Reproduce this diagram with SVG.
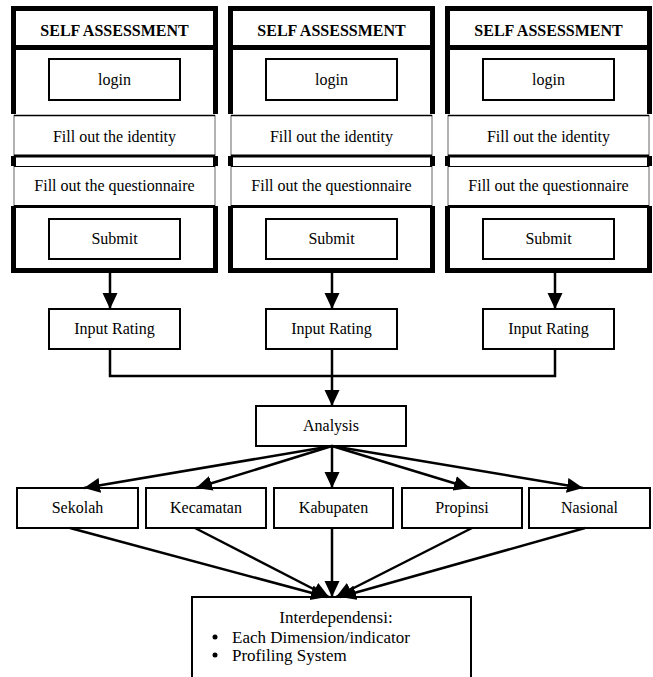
<svg xmlns="http://www.w3.org/2000/svg" width="653" height="677" viewBox="0 0 653 677">
<style>
text{font-family:"Liberation Serif","Times New Roman",serif;font-size:16px;fill:#000;text-anchor:middle}
.b{font-weight:bold}
.frame{fill:#fff;stroke:#000;stroke-width:5}
.box{fill:#fff;stroke:#000;stroke-width:2}
.cover{fill:#fff;stroke:none}
.thin{fill:#fff;stroke:#666;stroke-width:1}
.k{stroke:#000;fill:none}
.c{stroke:#000;stroke-width:2.5;fill:none}
.big{font-size:17px}
</style>
<defs>
<marker id="ah" markerUnits="userSpaceOnUse" markerWidth="17" markerHeight="16" refX="16" refY="7.5" orient="auto" viewBox="0 0 17 15">
<path d="M0,0 L16,7.5 L0,15 z" fill="#000"/>
</marker>
<g id="panelShape">
<rect class="frame" x="13.5" y="8.5" width="202" height="262"/>
<line class="k" x1="11" y1="47.5" x2="218" y2="47.5" stroke-width="5"/>
<rect class="box" x="49" y="59" width="131" height="41"/>
<rect class="cover" x="10" y="114" width="209" height="42"/>
<rect class="thin" x="14" y="115.5" width="201" height="40"/>
<line class="k" x1="14" y1="115.5" x2="215" y2="115.5" stroke-width="1.5"/>
<line class="k" x1="14" y1="156" x2="215" y2="156" stroke-width="3"/>
<rect class="cover" x="10" y="166" width="209" height="40"/>
<rect class="thin" x="14" y="166.5" width="201" height="39"/>
<line class="k" x1="14" y1="166.5" x2="215" y2="166.5" stroke-width="1"/>
<line class="k" x1="14" y1="206.5" x2="215" y2="206.5" stroke-width="3"/>
<rect class="box" x="49" y="219" width="131" height="40"/>
</g>
</defs>

<g id="panel1">
<use href="#panelShape"/>
<text class="b" x="114.5" y="36">SELF ASSESSMENT</text>
<text x="114.5" y="85">login</text>
<text x="114.5" y="142">Fill out the identity</text>
<text x="114.5" y="191">Fill out the questionnaire</text>
<text x="114.5" y="244">Submit</text>
</g>
<g id="panel2" transform="translate(217,0)">
<use href="#panelShape"/>
<text class="b" x="114.5" y="36">SELF ASSESSMENT</text>
<text x="114.5" y="85">login</text>
<text x="114.5" y="142">Fill out the identity</text>
<text x="114.5" y="191">Fill out the questionnaire</text>
<text x="114.5" y="244">Submit</text>
</g>
<g id="panel3" transform="translate(434,0)">
<use href="#panelShape"/>
<text class="b" x="114.5" y="36">SELF ASSESSMENT</text>
<text x="114.5" y="85">login</text>
<text x="114.5" y="142">Fill out the identity</text>
<text x="114.5" y="191">Fill out the questionnaire</text>
<text x="114.5" y="244">Submit</text>
</g>

<g id="rating1"><rect class="box" x="49" y="309" width="131" height="40"/><text x="114.5" y="334">Input Rating</text></g>
<g id="rating2"><rect class="box" x="266" y="309" width="131" height="40"/><text x="331.5" y="334">Input Rating</text></g>
<g id="rating3"><rect class="box" x="483" y="309" width="131" height="40"/><text x="548.5" y="334">Input Rating</text></g>

<g id="analysis"><rect class="box" x="256" y="406" width="150" height="40"/><text x="331" y="431">Analysis</text></g>

<g id="sekolah"><rect class="box" x="17" y="488" width="121" height="40"/><text x="77.5" y="513">Sekolah</text></g>
<g id="kecamatan"><rect class="box" x="146" y="488" width="120" height="40"/><text x="206" y="513">Kecamatan</text></g>
<g id="kabupaten"><rect class="box" x="274" y="488" width="119" height="40"/><text x="333.5" y="513">Kabupaten</text></g>
<g id="propinsi"><rect class="box" x="402" y="488" width="120" height="40"/><text x="462" y="513">Propinsi</text></g>
<g id="nasional"><rect class="box" x="529" y="488" width="121" height="40"/><text x="589.5" y="513">Nasional</text></g>

<g id="interdependensi">
<rect class="box" x="192" y="597" width="279" height="90"/>
<text class="big" x="336" y="623">Interdependensi:</text>
<circle cx="215" cy="637" r="2.5" fill="#000"/>
<circle cx="215" cy="655" r="2.5" fill="#000"/>
<text class="big" x="232" y="643" style="text-anchor:start">Each Dimension/indicator</text>
<text class="big" x="232" y="661" style="text-anchor:start">Profiling System</text>
</g>

<g id="connectors">
<line class="c" x1="110" y1="273" x2="110" y2="309" marker-end="url(#ah)"/>
<line class="c" x1="332" y1="273" x2="332" y2="309" marker-end="url(#ah)"/>
<line class="c" x1="555" y1="273" x2="555" y2="309" marker-end="url(#ah)"/>
<polyline class="c" points="110,349 110,376 555,376 555,349"/>
<line class="c" x1="332" y1="349" x2="332" y2="406" marker-end="url(#ah)"/>
<line class="c" x1="332" y1="446" x2="84" y2="488" marker-end="url(#ah)"/>
<line class="c" x1="332" y1="446" x2="196" y2="488" marker-end="url(#ah)"/>
<line class="c" x1="332" y1="446" x2="332" y2="488" marker-end="url(#ah)"/>
<line class="c" x1="332" y1="446" x2="470" y2="488" marker-end="url(#ah)"/>
<line class="c" x1="332" y1="446" x2="583" y2="488" marker-end="url(#ah)"/>
<line class="c" x1="70" y1="528" x2="327" y2="597" marker-end="url(#ah)"/>
<line class="c" x1="195" y1="528" x2="329" y2="597" marker-end="url(#ah)"/>
<line class="c" x1="332" y1="528" x2="332" y2="597" marker-end="url(#ah)"/>
<line class="c" x1="472" y1="528" x2="336" y2="597" marker-end="url(#ah)"/>
<line class="c" x1="585" y1="528" x2="340" y2="597" marker-end="url(#ah)"/>
</g>
</svg>
